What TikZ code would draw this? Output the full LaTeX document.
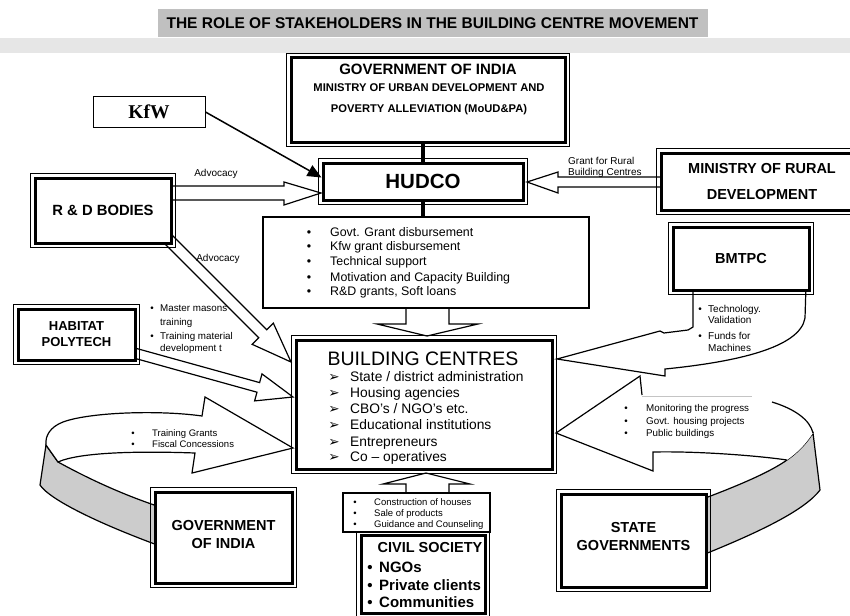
\documentclass[tikz,border=0pt]{standalone}
\usepackage{fontspec}
\setmainfont{Liberation Sans}
\newfontfamily\serifb{Liberation Serif}
\newfontfamily\dejavu{DejaVu Sans}
\usetikzlibrary{arrows.meta}
\definecolor{banner}{HTML}{C0C0C0}
\definecolor{band}{HTML}{E6E6E6}
\definecolor{ribbon}{HTML}{CCCCCC}
\definecolor{faint}{HTML}{C4C4C4}
\newcommand{\fsz}[2]{\fontsize{#1}{#2}\selectfont}
% double-bordered box: name, x1, y1, x2, y2, font, text
\newcommand{\dbox}[7]{%
  \node[dbx, font=#6, minimum width={#4-#2-6}, minimum height={#5-#3-6}] (#1) at ({(#2+#4)/2},{(#3+#5)/2}) {#7};
  \draw[line width=0.8] ([shift={(-2.9,-2.9)}]#1.north west) rectangle ([shift={(2.9,2.9)}]#1.south east);}
% bullet line: name, bullet x, text x, baseline y, text
\newcommand{\bline}[5]{%
  \node[inner sep=0, anchor=base] (#1b) at (#2,#4) {\textbullet};
  \node[inner sep=0, anchor=base west] (#1) at (#3,#4) {#5};}
\newcommand{\tline}[4]{%
  \node[inner sep=0, anchor=base west] (#1) at (#2,#3) {#4};}
\newcommand{\aline}[5]{%
  \node[inner sep=0, anchor=base, font=\dejavu\fsz{13.5}{15}] (#1b) at (#2,#4) {➢};
  \node[inner sep=0, anchor=base west] (#1) at (#3,#4) {#5};}
\begin{document}
\begin{tikzpicture}[x=1pt,y=-1pt,
  dbx/.style={draw, line width=3, fill=white, inner sep=0, align=center},
  outl/.style={draw, line width=1.2, fill=white, line join=miter}]
\clip (0,0) rectangle (850,615);
\fill[white] (0,0) rectangle (850,615);
% title
\fill[band] (0,38) rectangle (850,53);
\node[fill=banner, draw=white, line width=1, minimum width=551, minimum height=29, inner sep=0,
  font=\bfseries\fsz{15.5}{17}] (title) at (432.5,23.5) {THE ROLE OF STAKEHOLDERS IN THE BUILDING CENTRE MOVEMENT};

% ---------- block arrows ----------
\draw[outl] (165,186) -- (284,186) -- (284,182) -- (321,193) -- (284,205) -- (284,200) -- (165,200);
\draw[outl] (668,177) -- (558,177) -- (558,172) -- (527,182) -- (558,193) -- (558,187) -- (668,187);
\draw[outl] (169.8,232.8) -- (266.7,329.7) -- (273.3,323.1) -- (291,362) -- (252.1,344.3) -- (258.7,337.7) -- (161.8,240.8);
\draw[outl] (131.6,347.1) -- (259.6,382.6) -- (262.0,373.9) -- (293,397) -- (254.6,400.9) -- (257.0,392.2) -- (129.0,356.7);
\draw[outl] (406,300) -- (406,324) -- (377,324) -- (427,336) -- (478,324) -- (449,324) -- (449,300);
\draw[outl] (406,500) -- (406,484) -- (383,484) -- (426,473) -- (470,484) -- (449,484) -- (449,500);
% BMTPC curved arrow
\draw[outl] (693,285) -- (693,327) -- (688,330) -- (664,333) -- (660,331) -- (557,359) -- (665,376) -- (665,369)
  .. controls (735,362) and (800,348) .. (805,318) -- (806,285);
% left ribbon (Government of India)
\filldraw[fill=ribbon, line width=1.2] (46,445) -- (58,462) .. controls (80,474) and (115,492) .. (160,507)
  -- (160,546) .. controls (100,524) and (50,500) .. (40,485) -- cycle;
\filldraw[fill=white, line width=1.2, line join=miter] (293,448) -- (205,397) -- (202,416)
  .. controls (160,410) and (90,412) .. (63,422) .. controls (50,427) and (45,436) .. (46,445)
  -- (58,462) .. controls (80,452) and (140,451) .. (195,453) -- (192,473) -- cycle;
% right ribbon (State governments)
\filldraw[fill=ribbon, line width=1.2] (813,433) .. controls (805,445) and (798,452) .. (787,460)
  .. controls (770,472) and (740,485) .. (700,500) -- (700,556) .. controls (760,532) and (805,510) .. (820,490) -- cycle;
\fill[white] (556,433) -- (640,376) -- (642,395) -- (772,402) .. controls (795,409) and (810,420) .. (813,433)
  .. controls (805,445) and (798,452) .. (787,460) .. controls (760,456) and (700,451) .. (653,452) -- (653,471) -- cycle;
\draw[line width=1.2] (772,402) .. controls (795,409) and (810,420) .. (813,433);
\draw[line width=1.2, line join=miter] (787,460) .. controls (760,456) and (700,451) .. (653,452) -- (653,471) -- (556,433) -- (640,376) -- (642,395);
\draw[faint, line width=0.8] (642,396) -- (752,396);

% ---------- boxes ----------
\dbox{goi}{288}{55}{568}{145}{\bfseries}{}
\dbox{hudco}{320}{160}{526}{203}{\bfseries\fsz{20.5}{22}}{HUDCO}
\dbox{rd}{32}{175}{174}{246}{\bfseries\fsz{14.8}{17}}{R \& D BODIES}
\dbox{mrd}{658}{150}{866}{213}{\bfseries\fsz{14.5}{26}}{MINISTRY OF RURAL\\DEVELOPMENT}
\dbox{bmtpc}{670}{224}{812}{293}{\bfseries\fsz{14.5}{17}}{BMTPC}
\dbox{hab}{15}{306}{138}{363}{\bfseries\fsz{13}{16}}{HABITAT\\POLYTECH}
\dbox{bc}{293}{337}{555}{472}{}{}
\dbox{goib}{152}{489}{295}{586}{}{}
\dbox{state}{558}{491}{709}{590}{}{}
\dbox{civil}{358}{532}{488}{616}{}{}
\node[draw, line width=1, fill=white, minimum width=112, minimum height=30, inner sep=0,
  font=\serifb\bfseries\fsz{19.5}{21}] (kfw) at (149,112) {KfW};
\node[draw, line width=1.8, fill=white, minimum width=326, minimum height=91, inner sep=0] (hlist) at (426,262.5) {};
\node[draw, line width=1.3, fill=white, minimum width=147, minimum height=39, inner sep=0] (clist) at (416.5,512.5) {};

% ---------- connectors ----------
\draw[line width=4] (hudco.north) -- (hudco.north |- goi.south);
\draw[line width=4] (hudco.south) -- (hudco.south |- hlist.north);
\draw[line width=1.5, -{Triangle[length=14,width=12]}] (kfw.east) -- ([yshift=4pt]hudco.west);

% ---------- texts ----------
\node[inner sep=0, anchor=base, font=\bfseries\fsz{15}{17}] (g1) at (428,74.5) {GOVERNMENT OF INDIA};
\node[inner sep=0, anchor=base, font=\bfseries\fsz{11.2}{13}] (g2) at (429,92) {MINISTRY OF URBAN DEVELOPMENT AND};
\node[inner sep=0, anchor=base, font=\bfseries\fsz{11.2}{13}] (g3) at (429,112) {POVERTY ALLEVIATION (MoUD\&PA)};
\node[inner sep=0, anchor=base, font=\bfseries\fsz{14.5}{17}] (gb1) at (223.5,530) {GOVERNMENT};
\node[inner sep=0, anchor=base, font=\bfseries\fsz{14.5}{17}] (gb2) at (223.5,548) {OF INDIA};
\node[inner sep=0, anchor=base, font=\bfseries\fsz{14.5}{17}] (st1) at (633.5,532) {STATE};
\node[inner sep=0, anchor=base, font=\bfseries\fsz{14.5}{17}] (st2) at (633.5,550) {GOVERNMENTS};

\begin{scope}[font=\fsz{10}{12}]
\node[inner sep=0, anchor=base] (adv1) at (216,176.5) {Advocacy};
\node[inner sep=0, anchor=base] (adv2) at (218,261.5) {Advocacy};
\tline{gr1}{568}{164.5}{Grant for Rural}
\tline{gr2}{568}{175.5}{Building Centres}
\end{scope}

\begin{scope}[font=\fsz{12.4}{15}]
\bline{h1}{309}{330}{236}{Govt. Grant disbursement}
\bline{h2}{309}{330}{250.5}{Kfw grant disbursement}
\bline{h3}{309}{330}{265}{Technical support}
\bline{h4}{309}{330}{281}{Motivation and Capacity Building}
\bline{h5}{309}{330}{295}{R\&D grants, Soft loans}
\end{scope}

\node[inner sep=0, anchor=base, font=\fsz{19.5}{22}] (bct) at (423,365) {BUILDING CENTRES};
\begin{scope}[font=\fsz{13.8}{16}]
\aline{b1}{334}{350}{381.6}{State / district administration}
\aline{b2}{334}{350}{397.6}{Housing agencies}
\aline{b3}{334}{350}{413.6}{CBO’s / NGO’s etc.}
\aline{b4}{334}{350}{429.6}{Educational institutions}
\aline{b5}{334}{350}{446.6}{Entrepreneurs}
\aline{b6}{334}{350}{461.6}{Co – operatives}
\end{scope}

\begin{scope}[font=\fsz{10}{12}]
\bline{t1}{700}{708}{312.5}{Technology.}
\tline{t2}{708}{323.5}{Validation}
\bline{t3}{700}{708}{339.5}{Funds for}
\tline{t4}{708}{351.5}{Machines}
\end{scope}

\begin{scope}[font=\fsz{9.8}{12}]
\bline{m1}{152}{160}{311.5}{Master masons}
\tline{m2}{160}{325.5}{training}
\bline{m3}{152}{160}{339.5}{Training material}
\tline{m4}{160}{351.5}{development t}
\end{scope}

\begin{scope}[font=\fsz{9.5}{11}]
\bline{f1}{133}{152}{436}{Training Grants}
\bline{f2}{133}{152}{447.5}{Fiscal Concessions}
\end{scope}

\begin{scope}[font=\fsz{9.8}{12}]
\bline{s1}{626}{646}{411.5}{Monitoring the progress}
\bline{s2}{626}{646}{424.5}{Govt. housing projects}
\bline{s3}{626}{646}{436.5}{Public buildings}
\end{scope}

\begin{scope}[font=\fsz{9.5}{11}]
\bline{c1}{355}{374}{505}{Construction of houses}
\bline{c2}{355}{374}{516}{Sale of products}
\bline{c3}{355}{374}{527}{Guidance and Counseling}
\end{scope}

\node[inner sep=0, anchor=base, font=\bfseries\fsz{14.5}{17}] (cst) at (430,552) {CIVIL SOCIETY};
\begin{scope}[font=\bfseries\fsz{15}{17}]
\bline{n1}{370}{379}{572}{NGOs}
\bline{n2}{370}{379}{590}{Private clients}
\bline{n3}{370}{379}{607}{Communities}
\end{scope}
\end{tikzpicture}
\end{document}
